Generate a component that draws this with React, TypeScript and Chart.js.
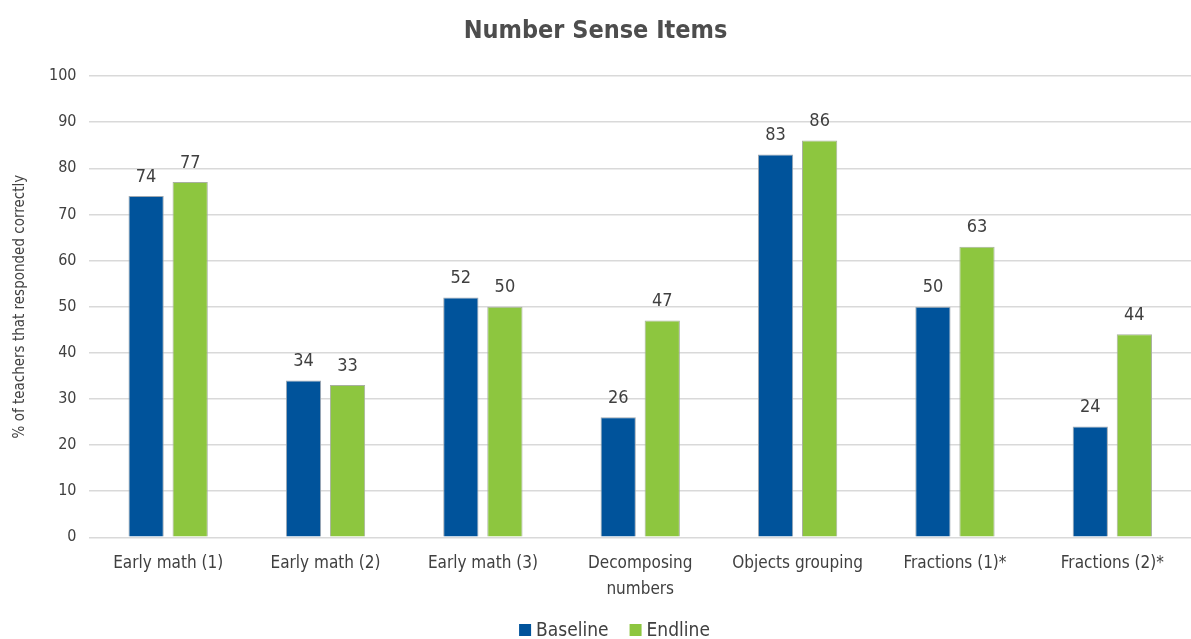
import React, { useEffect, useRef } from "react";
import { Chart, registerables } from "chart.js";

Chart.register(...registerables);

const categories: (string | string[])[] = [
  "Early math (1)",
  "Early math (2)",
  "Early math (3)",
  ["Decomposing", "numbers"],
  "Objects grouping",
  "Fractions (1)*",
  "Fractions (2)*",
];
const baseline = [74, 34, 52, 26, 83, 50, 24];
const endline = [77, 33, 50, 47, 86, 63, 44];
const seriesNames = ["Baseline", "Endline"];
const seriesColors = ["#00539b", "#8dc63f"];
const titleText = "Number Sense Items";
const yTitle = "% of teachers that responded correctly";

const FONT = "'Liberation Sans Narrow', 'DejaVu Sans Condensed', 'Open Sans', sans-serif";

const labelPlugin = {
  id: "barLabels",
  afterDatasetsDraw(chart: any) {
    const ctx = chart.ctx;
    ctx.save();
    ctx.font = `18px ${FONT}`;
    ctx.fillStyle = "#404040";
    ctx.textAlign = "center";
    ctx.textBaseline = "bottom";
    chart.data.datasets.forEach((ds: any, i: number) => {
      const meta = chart.getDatasetMeta(i);
      meta.data.forEach((bar: any, j: number) => {
        ctx.fillText(String(ds.data[j]), bar.x, bar.y - 10);
      });
    });
    ctx.restore();
  },
};

const legendPlugin = {
  id: "bottomLegend",
  afterDraw(chart: any) {
    const ctx = chart.ctx;
    ctx.save();
    ctx.font = `19px ${FONT}`;
    ctx.textBaseline = "middle";
    ctx.textAlign = "left";
    const box = 12;
    const gapBoxText = 5;
    const gapItems = 21;
    const items = chart.data.datasets.map((ds: any) => ({
      label: ds.label,
      color: ds.backgroundColor,
      w: box + gapBoxText + ctx.measureText(ds.label).width,
    }));
    const total = items.reduce((s: number, it: any) => s + it.w, 0) + gapItems * (items.length - 1);
    let x = chart.width / 2 + 19 - total / 2;
    const y = chart.height - 9;
    items.forEach((it: any) => {
      ctx.fillStyle = it.color;
      ctx.fillRect(x, y - box / 2, box, box);
      ctx.fillStyle = "#404040";
      ctx.fillText(it.label, x + box + gapBoxText, y + 1);
      x += it.w + gapItems;
    });
    ctx.restore();
  },
};

export default function App() {
  const ref = useRef<HTMLCanvasElement>(null);
  useEffect(() => {
    document.body.style.margin = "0";
    const chart = new Chart(ref.current!, {
      type: "bar",
      data: {
        labels: categories,
        datasets: [
          {
            label: seriesNames[0],
            data: baseline,
            backgroundColor: seriesColors[0],
            borderColor: "#9fa8b0",
            borderWidth: 1,
            categoryPercentage: 0.56,
            barPercentage: 0.8,
          },
          {
            label: seriesNames[1],
            data: endline,
            backgroundColor: seriesColors[1],
            borderColor: "#a8b0a0",
            borderWidth: 1,
            categoryPercentage: 0.56,
            barPercentage: 0.8,
          },
        ],
      },
      options: {
        animation: false,
        responsive: false,
        maintainAspectRatio: false,
        layout: { padding: { left: 0, right: 0, top: 0, bottom: 23 } },
        plugins: {
          title: {
            display: true,
            text: titleText,
            color: "#4d4d4d",
            font: { family: FONT, size: 25, weight: "bold" },
            padding: { top: 16, bottom: 30 },
          },
          legend: { display: false },
          tooltip: { enabled: false },
        },
        scales: {
          x: {
            grid: { display: false, drawTicks: false },
            border: { display: false },
            ticks: {
              color: "#404040",
              font: { family: FONT, size: 17, lineHeight: 1.55 },
              padding: 13,
              maxRotation: 0,
            },
          },
          y: {
            min: 0,
            max: 100,
            grid: { color: "#d9d9d9", lineWidth: 1.5, drawTicks: false },
            border: { display: false },
            ticks: {
              stepSize: 10,
              color: "#404040",
              font: { family: FONT, size: 16 },
              padding: 13,
            },
            title: {
              display: true,
              text: yTitle,
              color: "#404040",
              font: { family: FONT, size: 15 },
              padding: { top: 11, bottom: 7 },
            },
          },
        },
      },
      plugins: [labelPlugin, legendPlugin],
    });
    return () => chart.destroy();
  }, []);
  return (
    <div style={{ width: 1191, height: 639 }}>
      <canvas ref={ref} width={1191} height={639} />
    </div>
  );
}
